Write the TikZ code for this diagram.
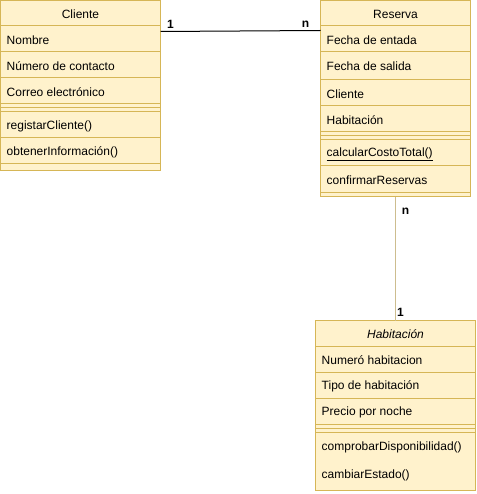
\documentclass[tikz,border=0pt]{standalone}
\usepackage{fontspec}
\setmainfont{Liberation Sans}
\definecolor{boxfill}{HTML}{FFF2CC}
\definecolor{boxline}{HTML}{D6B656}
\begin{document}
\begin{tikzpicture}[x=1pt,y=-1pt,
  classbox/.style={draw=boxline,fill=boxfill,line width=1pt,anchor=north west,inner sep=0pt,outer sep=0pt},
  rowline/.style={draw=boxline,line width=1pt},
  rowtext/.style={anchor=west,inner sep=0pt,font=\fontsize{12}{14}\selectfont},
  headtext/.style={anchor=center,inner sep=0pt,font=\fontsize{12}{14}\selectfont},
  mult/.style={inner sep=0pt,font=\fontsize{12}{14}\selectfont\bfseries},
  assoc/.style={line width=1pt}]
\useasboundingbox (0,0) rectangle (476,494);
% ---------- Cliente ----------
\node[classbox,minimum width=160pt,minimum height=170pt] (cliente) at (0.5,0.5) {};
\foreach \y in {26,52,78,104,108,112,138,164}
  \draw[rowline] (0.5,\y) -- (160.5,\y);
\node[headtext] (clienteH) at (80.5,14) {Cliente};
\node[rowtext] (c1) at (6.5,40.2) {Nombre};
\node[rowtext] (c2) at (6.5,66.2) {Número de contacto};
\node[rowtext] (c3) at (6.5,92.2) {Correo electrónico};
\node[rowtext] (c4) at (6.5,126.2) {registarCliente()};
\node[rowtext] (c5) at (6.5,152.2) {obtenerInformación()};
% ---------- Reserva ----------
\node[classbox,minimum width=150pt,minimum height=196pt] (reserva) at (320.5,0.5) {};
\foreach \y in {26,52,80,106,132,136,140,166,192}
  \draw[rowline] (320.5,\y) -- (470.5,\y);
\node[headtext] (reservaH) at (395.5,14) {Reserva};
\node[rowtext] (r1) at (326.5,40.2) {Fecha de entada};
\node[rowtext] (r2) at (326.5,66.2) {Fecha de salida};
\node[rowtext] (r3) at (326.5,94.2) {Cliente};
\node[rowtext] (r4) at (326.5,120.2) {Habitación};
\node[rowtext] (r5) at (326.5,154.2) {\underline{calcularCostoTotal()}};
\node[rowtext] (r6) at (326.5,180.2) {confirmarReservas};
% ---------- Habitacion ----------
\node[classbox,minimum width=160pt,minimum height=170pt] (habitacion) at (315.5,320.5) {};
\foreach \y in {346,372,398,424,428,432}
  \draw[rowline] (315.5,\y) -- (475.5,\y);
\node[headtext] (habitacionH) at (395.5,334) {\itshape Habitación};
\node[rowtext] (h1) at (321.5,360.2) {Numeró habitacion};
\node[rowtext] (h2) at (321.5,386.2) {Tipo de habitación};
\node[rowtext] (h3) at (321.5,412.2) {Precio por noche};
\node[rowtext] (h4) at (321.5,447.2) {comprobarDisponibilidad()};
\node[rowtext] (h5) at (321.5,475.2) {cambiarEstado()};
% ---------- connectors ----------
\draw[assoc] ([yshift=-31pt]cliente.north east) -- ([yshift=-30pt]reserva.north west);
\node[mult] (m1) at (170.5,24.5) {1};
\node[mult] (m2) at (305.5,24.5) {n};
\draw[assoc,draw=boxline!80!black!60] (reserva.south) -- (habitacion.north);
\node[mult] (m3) at (405.5,211) {n};
\node[mult] (m4) at (400.5,312.5) {1};
\end{tikzpicture}
\end{document}
